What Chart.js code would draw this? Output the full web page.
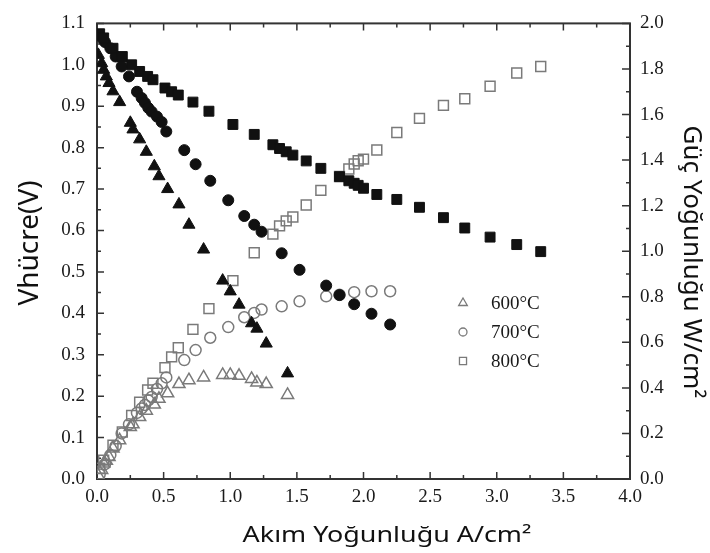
<!DOCTYPE html>
<html lang="tr">
<head>
  <meta charset="UTF-8">
  <title>Akım - Gerilim - Güç</title>
  <script src="https://cdn.jsdelivr.net/npm/chart.js@4.4.1/dist/chart.umd.min.js"></script>
  <style>
    body { margin: 0; background: #fff; }
    #wrap { width: 710px; height: 553px; }
  </style>
</head>
<body>
  <div id="wrap"><canvas id="cellChart" width="710" height="553"></canvas></div>

  <script>
    // 600°C
    const current600 = [0.01, 0.035, 0.05, 0.07, 0.09, 0.12, 0.17, 0.25, 0.27, 0.32, 0.37, 0.43, 0.465, 0.53, 0.615, 0.69, 0.80, 0.943, 1.0, 1.066, 1.16, 1.20, 1.27, 1.43];
    const volt600 = [1.024, 1.004, 0.988, 0.972, 0.956, 0.936, 0.91, 0.86, 0.844, 0.82, 0.79, 0.755, 0.731, 0.70, 0.663, 0.614, 0.554, 0.479, 0.453, 0.421, 0.376, 0.363, 0.327, 0.255];
    const power600 = [0.015, 0.04, 0.068, 0.08, 0.097, 0.134, 0.17, 0.228, 0.24, 0.272, 0.30, 0.327, 0.352, 0.376, 0.417, 0.434, 0.446, 0.457, 0.457, 0.453, 0.439, 0.424, 0.417, 0.369];

    // 700°C
    const current700 = [0.02, 0.06, 0.10, 0.14, 0.185, 0.24, 0.30, 0.335, 0.36, 0.385, 0.41, 0.45, 0.485, 0.52, 0.655, 0.74, 0.85, 0.985, 1.105, 1.18, 1.235, 1.386, 1.52, 1.72, 1.82, 1.93, 2.06, 2.20];
    const volt700 = [1.07, 1.055, 1.04, 1.02, 0.996, 0.972, 0.935, 0.92, 0.908, 0.896, 0.887, 0.875, 0.862, 0.839, 0.794, 0.76, 0.72, 0.673, 0.635, 0.614, 0.597, 0.545, 0.505, 0.467, 0.444, 0.422, 0.399, 0.373];
    const power700 = [0.02, 0.065, 0.105, 0.145, 0.2, 0.24, 0.29, 0.31, 0.325, 0.345, 0.36, 0.395, 0.42, 0.446, 0.522, 0.566, 0.62, 0.667, 0.71, 0.729, 0.744, 0.758, 0.78, 0.802, 0.809, 0.82, 0.824, 0.824];

    // 800°C
    const current800 = [0.02, 0.05, 0.12, 0.19, 0.26, 0.32, 0.38, 0.42, 0.51, 0.56, 0.61, 0.72, 0.84, 1.02, 1.18, 1.32, 1.37, 1.42, 1.47, 1.57, 1.68, 1.82, 1.89, 1.93, 1.96, 2.00, 2.10, 2.25, 2.42, 2.60, 2.76, 2.95, 3.15, 3.33];
    const volt800 = [1.075, 1.065, 1.04, 1.02, 1.0, 0.984, 0.972, 0.964, 0.944, 0.935, 0.927, 0.91, 0.888, 0.856, 0.832, 0.807, 0.798, 0.79, 0.782, 0.768, 0.75, 0.73, 0.72, 0.714, 0.709, 0.702, 0.687, 0.675, 0.656, 0.631, 0.606, 0.584, 0.566, 0.549];
    const power800 = [0.047, 0.083, 0.148, 0.206, 0.279, 0.337, 0.391, 0.42, 0.489, 0.536, 0.576, 0.657, 0.748, 0.871, 0.993, 1.075, 1.111, 1.133, 1.150, 1.203, 1.267, 1.328, 1.361, 1.383, 1.397, 1.404, 1.444, 1.521, 1.583, 1.64, 1.669, 1.724, 1.782, 1.811];

    const legendLabels = ['600°C', '700°C', '800°C'];

    const pts = (xs, ys) => xs.map((x, i) => ({ x, y: ys[i] }));
    const serif = "'Liberation Serif', 'DejaVu Serif', serif";
    const sans = "'Noto Sans', 'Open Sans', sans-serif";
    const ink = '#1a1a1a';
    const openGray = '#7a7a7a';

    const filled = (data, style, r) => ({
      data, yAxisID: 'y', pointStyle: style, pointRadius: r, pointHoverRadius: r,
      backgroundColor: '#111', borderColor: '#111', borderWidth: 1, showLine: false
    });
    const open = (data, style, r) => ({
      data, yAxisID: 'y1', pointStyle: style, pointRadius: r, pointHoverRadius: r,
      backgroundColor: 'rgba(0,0,0,0)', borderColor: openGray, borderWidth: 1.5, showLine: false
    });

    // frame with inward ticks, axis titles and the little legend
    const framePlugin = {
      id: 'framePlugin',
      beforeDatasetsDraw(chart) {
        const { ctx, chartArea: a, scales } = chart;
        ctx.save();
        ctx.strokeStyle = '#333';
        ctx.lineWidth = 2;
        ctx.strokeRect(a.left, a.top, a.right - a.left, a.bottom - a.top);
        ctx.lineWidth = 1.5;
        ctx.beginPath();
        for (let i = 0; i <= 16; i++) {
          const px = scales.x.getPixelForValue(i * 0.25);
          const len = i % 2 === 0 ? 7 : 4;
          ctx.moveTo(px, a.bottom); ctx.lineTo(px, a.bottom - len);
          ctx.moveTo(px, a.top); ctx.lineTo(px, a.top + len);
        }
        for (let i = 0; i <= 22; i++) {
          const py = scales.y.getPixelForValue(i * 0.05);
          const len = i % 2 === 0 ? 7 : 4;
          ctx.moveTo(a.left, py); ctx.lineTo(a.left + len, py);
        }
        for (let i = 0; i <= 20; i++) {
          const py = scales.y1.getPixelForValue(i * 0.1);
          const len = i % 2 === 0 ? 8 : 4;
          ctx.moveTo(a.right, py); ctx.lineTo(a.right - len, py);
        }
        ctx.stroke();
        ctx.restore();
      },
      afterDraw(chart) {
        const { ctx } = chart;
        ctx.save();
        ctx.fillStyle = '#111';
        ctx.textAlign = 'center';
        ctx.textBaseline = 'middle';

        ctx.save();
        ctx.translate(387, 536);
        ctx.scale(1.28, 1);
        ctx.font = "21px " + sans;
        ctx.fillText('Akım Yoğunluğu A/cm²', 0, 0);
        ctx.restore();

        ctx.save();
        ctx.translate(30, 243);
        ctx.rotate(-Math.PI / 2);
        ctx.font = "28px " + sans;
        ctx.fillText('Vhücre(V)', 0, 0);
        ctx.restore();

        ctx.save();
        ctx.translate(691, 262);
        ctx.rotate(Math.PI / 2);
        ctx.font = "26px " + sans;
        ctx.fillText('Güç Yoğunluğu W/cm²', 0, 0);
        ctx.restore();

        // legend
        const styles = ['triangle', 'circle', 'rect'];
        const radii = [5, 4, 5];
        ctx.font = "19px " + serif;
        ctx.textAlign = 'left';
        legendLabels.forEach((lab, i) => {
          const y = 303 + i * 29;
          ctx.strokeStyle = openGray;
          ctx.fillStyle = 'rgba(0,0,0,0)';
          ctx.lineWidth = 1.3;
          Chart.helpers.drawPoint(ctx, { pointStyle: styles[i], radius: radii[i], borderWidth: 1.3, rotation: 0 }, 463, y);
          ctx.fillStyle = ink;
          ctx.fillText(lab, 491, y + 1);
        });
        ctx.restore();
      }
    };

    new Chart(document.getElementById('cellChart').getContext('2d'), {
      type: 'scatter',
      data: {
        datasets: [
          filled(pts(current800, volt800), 'rect', 7),
          filled(pts(current700, volt700), 'circle', 5.5),
          filled(pts(current600, volt600), 'triangle', 7),
          open(pts(current800, power800), 'rect', 7),
          open(pts(current700, power700), 'circle', 5.5),
          open(pts(current600, power600), 'triangle', 7)
        ]
      },
      options: {
        responsive: false,
        animation: false,
        layout: { padding: { top: 20, left: 0, right: 0, bottom: 0 } },
        plugins: { legend: { display: false }, tooltip: { enabled: false } },
        scales: {
          x: {
            type: 'linear', min: 0, max: 4,
            grid: { display: false, drawTicks: false },
            border: { display: false },
            ticks: { stepSize: 0.5, padding: 7, color: ink, font: { family: serif, size: 19 }, callback: v => v.toFixed(1) },
            afterFit: s => { s.height = 74; }
          },
          y: {
            type: 'linear', position: 'left', min: 0, max: 1.1,
            grid: { display: false, drawTicks: false },
            border: { display: false },
            ticks: { stepSize: 0.1, padding: 12, color: ink, font: { family: serif, size: 19 }, callback: v => v.toFixed(1) },
            afterFit: s => { s.width = 97; }
          },
          y1: {
            type: 'linear', position: 'right', min: 0, max: 2.0,
            grid: { display: false, drawTicks: false },
            border: { display: false },
            ticks: { stepSize: 0.2, padding: 10, color: ink, font: { family: serif, size: 19 }, callback: v => v.toFixed(1) },
            afterFit: s => { s.width = 80; }
          }
        }
      },
      plugins: [framePlugin]
    });
  </script>
</body>
</html>
